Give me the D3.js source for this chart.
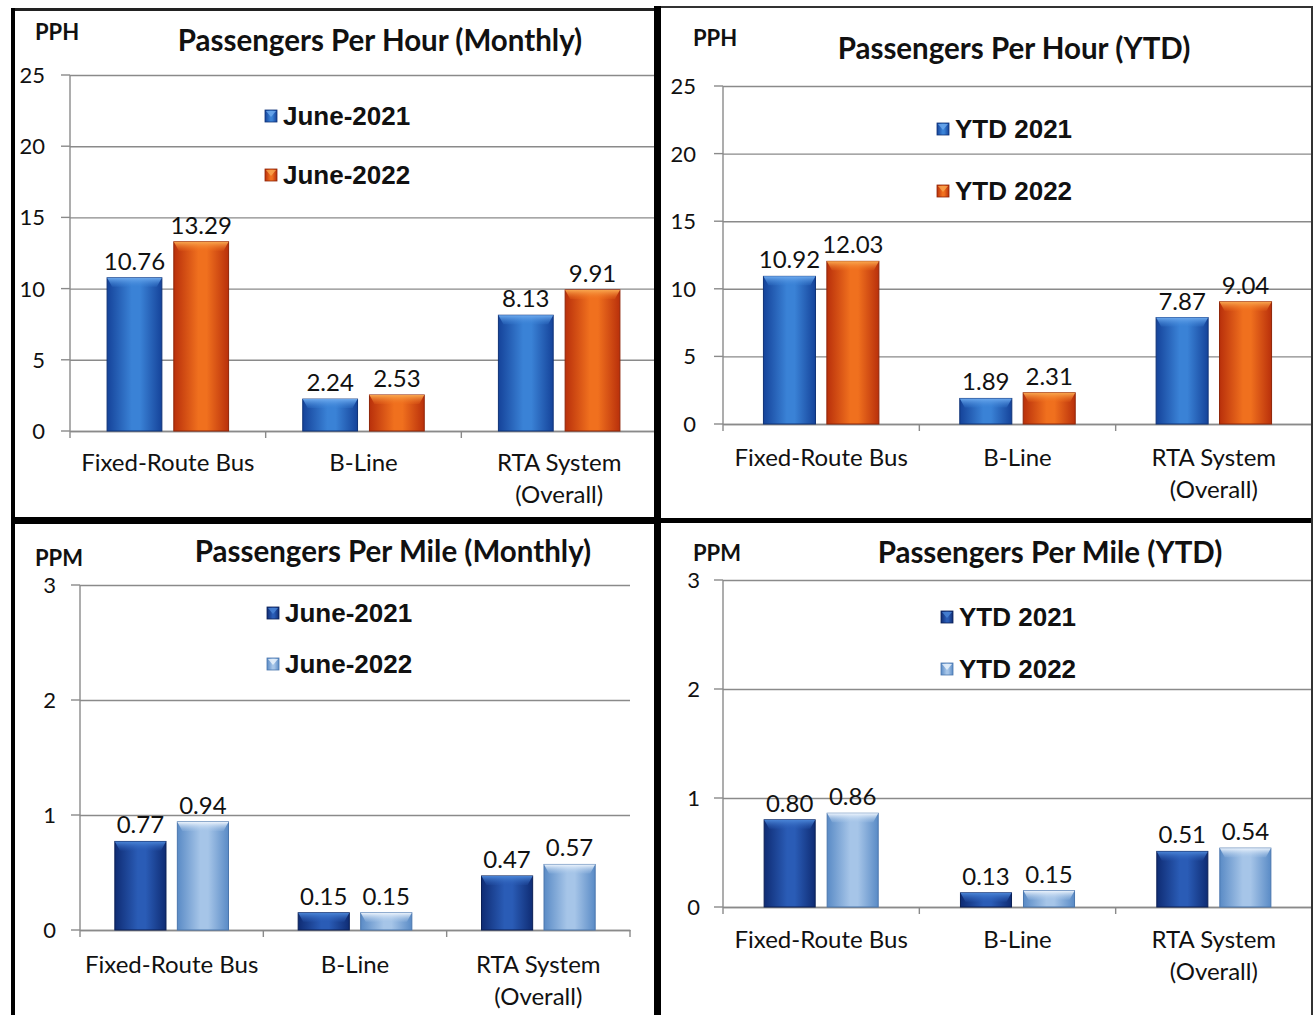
<!DOCTYPE html>
<html><head><meta charset="utf-8">
<script src="https://cdn.jsdelivr.net/npm/d3@7"></script>
<style>
html,body{margin:0;padding:0;background:#fff;}
svg{display:block;}
</style></head>
<body>
<svg id="chart" width="1315" height="1015"></svg>
<script>
// ---------- DATA ----------
const categories = ["Fixed-Route Bus", "B-Line", "RTA System (Overall)"];
const categoryLines = [["Fixed-Route Bus"], ["B-Line"], ["RTA System", "(Overall)"]];
const pphMonthlySeries = ["June-2021", "June-2022"];
const pphMonthly2021 = [10.76, 2.24, 8.13];
const pphMonthly2022 = [13.29, 2.53, 9.91];
const pphYtdSeries = ["YTD 2021", "YTD 2022"];
const pphYtd2021 = [10.92, 1.89, 7.87];
const pphYtd2022 = [12.03, 2.31, 9.04];
const ppmMonthlySeries = ["June-2021", "June-2022"];
const ppmMonthly2021 = [0.77, 0.15, 0.47];
const ppmMonthly2022 = [0.94, 0.15, 0.57];
const ppmYtdSeries = ["YTD 2021", "YTD 2022"];
const ppmYtd2021 = [0.80, 0.13, 0.51];
const ppmYtd2022 = [0.86, 0.15, 0.54];
const pphTicks = [0, 5, 10, 15, 20, 25];
const ppmTicks = [0, 1, 2, 3];

// ---------- STYLE ----------
const svg = d3.select("#chart");
const defs = svg.append("defs");
const schemes = {
  blue:   {edge:"#15439a", mid:"#3a82d6", cap:"#6eaaee", dark:"#0f3277"},
  orange: {edge:"#b9300b", mid:"#f0701e", cap:"#f9a850", dark:"#8f2508"},
  navy:   {edge:"#0f2c74", mid:"#2a5cb6", cap:"#4b86d8", dark:"#0a1f55"},
  light:  {edge:"#5a8bc6", mid:"#a6c5e8", cap:"#eef5fd", dark:"#4a76ad"}
};
Object.entries(schemes).forEach(([k, s]) => {
  const g = defs.append("linearGradient").attr("id", "h-" + k).attr("x1", "0").attr("x2", "1").attr("y1", "0").attr("y2", "0");
  g.append("stop").attr("offset", "0").attr("stop-color", s.edge);
  g.append("stop").attr("offset", "0.45").attr("stop-color", s.mid);
  g.append("stop").attr("offset", "0.6").attr("stop-color", s.mid);
  g.append("stop").attr("offset", "1").attr("stop-color", s.edge);
  const c = defs.append("linearGradient").attr("id", "c-" + k).attr("x1", "0").attr("x2", "0").attr("y1", "0").attr("y2", "1");
  c.append("stop").attr("offset", "0").attr("stop-color", s.cap);
  c.append("stop").attr("offset", "1").attr("stop-color", s.mid).attr("stop-opacity", 0.2);
});

const bodyFont = "Lato, 'Open Sans', sans-serif";
const legendFont = "'Liberation Sans', Arial, sans-serif";

function panel(cfg) {
  const g = svg.append("g");
  const y = d3.scaleLinear().domain([0, d3.max(cfg.ticks)]).range([cfg.y0, cfg.y1]);
  const x = d3.scaleBand().domain(categories).range([cfg.x0, cfg.x1]).paddingInner(0).paddingOuter(0);
  const bw = x.bandwidth();
  const outer = (1 - 2 * cfg.barFrac - cfg.gapFrac) / 2;
  const xs = d3.scaleBand().domain([0, 1]).range([bw * outer, bw * (1 - outer)])
    .paddingInner(cfg.gapFrac / (cfg.gapFrac + cfg.barFrac)).paddingOuter(0);

  // gridlines + y axis
  const yAxis = d3.axisLeft(y).tickValues(cfg.ticks).tickSize(-(cfg.x1 - cfg.x0)).tickPadding(0).tickFormat("");
  const ga = g.append("g").attr("transform", `translate(${cfg.x0},0)`).call(yAxis);
  ga.select(".domain").remove();
  ga.selectAll(".tick line").attr("stroke", "#8a8a8a").attr("stroke-width", 1.4);
  g.selectAll(".ystub").data(cfg.ticks).join("line")
    .attr("x1", cfg.x0 - 9).attr("x2", cfg.x0).attr("y1", d => y(d)).attr("y2", d => y(d))
    .attr("stroke", "#8a8a8a").attr("stroke-width", 1.4);
  g.append("line").attr("x1", cfg.x0).attr("x2", cfg.x0).attr("y1", y(d3.max(cfg.ticks))).attr("y2", cfg.y0)
    .attr("stroke", "#8a8a8a").attr("stroke-width", 1.4);
  g.selectAll(".ylab").data(cfg.ticks).join("text")
    .attr("x", cfg.x0 - cfg.labOff).attr("y", d => y(d)).attr("dy", "0.36em")
    .attr("text-anchor", "end").attr("font-family", bodyFont).attr("font-size", 22).attr("fill", "#111")
    .text(d => d);

  // x axis
  const xAxis = d3.axisBottom(x).tickSize(0).tickFormat("");
  const gx = g.append("g").attr("transform", `translate(0,${cfg.y0})`).call(xAxis);
  gx.select(".domain").attr("stroke", "#8a8a8a").attr("stroke-width", 1.4);
  const bounds = categories.map(c => x(c)).concat([cfg.x1]);
  g.selectAll(".xstub").data(bounds).join("line")
    .attr("x1", d => d).attr("x2", d => d).attr("y1", cfg.y0).attr("y2", cfg.y0 + 7)
    .attr("stroke", "#8a8a8a").attr("stroke-width", 1.4);
  categories.forEach((c, i) => {
    const t = g.append("text").attr("text-anchor", "middle").attr("font-family", bodyFont)
      .attr("font-size", 24).attr("fill", "#111");
    categoryLines[i].forEach((ln, j) => {
      t.append("tspan").attr("x", x(c) + bw / 2).attr("y", cfg.y0 + cfg.catOff + j * 32).text(ln);
    });
  });

  // bars
  const fmt = d3.format(".2f");
  cfg.series.forEach((vals, si) => {
    const sch = cfg.schemes[si];
    vals.forEach((v, i) => {
      const bx = x(categories[i]) + xs(si);
      const w = xs.bandwidth();
      const top = y(v), h = cfg.y0 - top;
      g.append("rect").attr("x", bx).attr("y", top).attr("width", w).attr("height", h)
        .attr("fill", `url(#h-${sch})`).attr("stroke", schemes[sch].dark).attr("stroke-width", 1);
      const capH = Math.min(9, h);
      g.append("path")
        .attr("d", `M${bx},${top} L${bx + w},${top} L${bx + w - 5},${top + capH} L${bx + 5},${top + capH} Z`)
        .attr("fill", `url(#c-${sch})`);
      g.append("text").attr("x", bx + w / 2).attr("y", top - 8).attr("text-anchor", "middle")
        .attr("font-family", bodyFont).attr("font-size", 24).attr("fill", "#111").text(fmt(v));
    });
  });

  // legend
  cfg.legend.forEach((name, si) => {
    const sch = cfg.schemes[si];
    const cy = cfg.legY + si * cfg.legGap;
    g.append("rect").attr("x", cfg.legX).attr("y", cy - 6).attr("width", 12).attr("height", 12)
      .attr("fill", `url(#h-${sch})`).attr("stroke", schemes[sch].dark).attr("stroke-width", 0.8);
    g.append("path").attr("d", `M${cfg.legX+1},${cy-5} L${cfg.legX+11},${cy-5} L${cfg.legX+6},${cy+1} Z`)
      .attr("fill", schemes[sch].cap).attr("opacity", 0.8);
    g.append("text").attr("x", cfg.legX + 18).attr("y", cy).attr("dy", "0.36em")
      .attr("font-family", legendFont).attr("font-weight", "bold").attr("font-size", 26).attr("fill", "#111")
      .text(name);
  });

  // title + unit
  g.append("text").attr("x", cfg.titleX).attr("y", cfg.titleY).attr("text-anchor", "middle")
    .attr("font-family", bodyFont).attr("font-weight", "bold").attr("font-size", 29.5).attr("fill", "#111")
    .text(cfg.title);
  g.append("text").attr("x", cfg.unitX).attr("y", cfg.unitY)
    .attr("font-family", bodyFont).attr("font-weight", "bold").attr("font-size", 22).attr("fill", "#111")
    .text(cfg.unit);
}

panel({x0:70, x1:657, y0:431, y1:75, ticks:pphTicks, barFrac:0.28, gapFrac:0.061, labOff:25, catOff:40,
  series:[pphMonthly2021, pphMonthly2022], schemes:["blue","orange"], legend:pphMonthlySeries,
  legX:265, legY:116, legGap:59, title:"Passengers Per Hour (Monthly)", titleX:380, titleY:51, unit:"PPH", unitX:35, unitY:40});
panel({x0:723, x1:1312, y0:424, y1:86, ticks:pphTicks, barFrac:0.265, gapFrac:0.058, labOff:27, catOff:42,
  series:[pphYtd2021, pphYtd2022], schemes:["blue","orange"], legend:pphYtdSeries,
  legX:937, legY:129, legGap:62, title:"Passengers Per Hour (YTD)", titleX:1014, titleY:59, unit:"PPH", unitX:693, unitY:46});
panel({x0:80, x1:630, y0:930, y1:585, ticks:ppmTicks, barFrac:0.279, gapFrac:0.062, labOff:24, catOff:43,
  series:[ppmMonthly2021, ppmMonthly2022], schemes:["navy","light"], legend:ppmMonthlySeries,
  legX:267, legY:613, legGap:51, title:"Passengers Per Mile (Monthly)", titleX:393, titleY:562, unit:"PPM", unitX:35, unitY:566});
panel({x0:723, x1:1312, y0:907, y1:580, ticks:ppmTicks, barFrac:0.26, gapFrac:0.061, labOff:23, catOff:41,
  series:[ppmYtd2021, ppmYtd2022], schemes:["navy","light"], legend:ppmYtdSeries,
  legX:941, legY:617, legGap:52, title:"Passengers Per Mile (YTD)", titleX:1050, titleY:563, unit:"PPM", unitX:693, unitY:561});

// frame
const frame = svg.append("g");
frame.append("rect").attr("x", 11).attr("y", 8).attr("width", 646).attr("height", 3).attr("fill", "#222");
frame.append("rect").attr("x", 657).attr("y", 6).attr("width", 656).attr("height", 2).attr("fill", "#333");
frame.append("rect").attr("x", 11).attr("y", 8).attr("width", 4).attr("height", 1007).attr("fill", "#000");
frame.append("rect").attr("x", 654).attr("y", 6).attr("width", 7).attr("height", 1009).attr("fill", "#000");
frame.append("rect").attr("x", 11).attr("y", 517).attr("width", 646).attr("height", 7).attr("fill", "#000");
frame.append("rect").attr("x", 657).attr("y", 518).attr("width", 656).attr("height", 5).attr("fill", "#000");
frame.append("rect").attr("x", 1311).attr("y", 6).attr("width", 2).attr("height", 1009).attr("fill", "#333");
</script>
</body></html>
